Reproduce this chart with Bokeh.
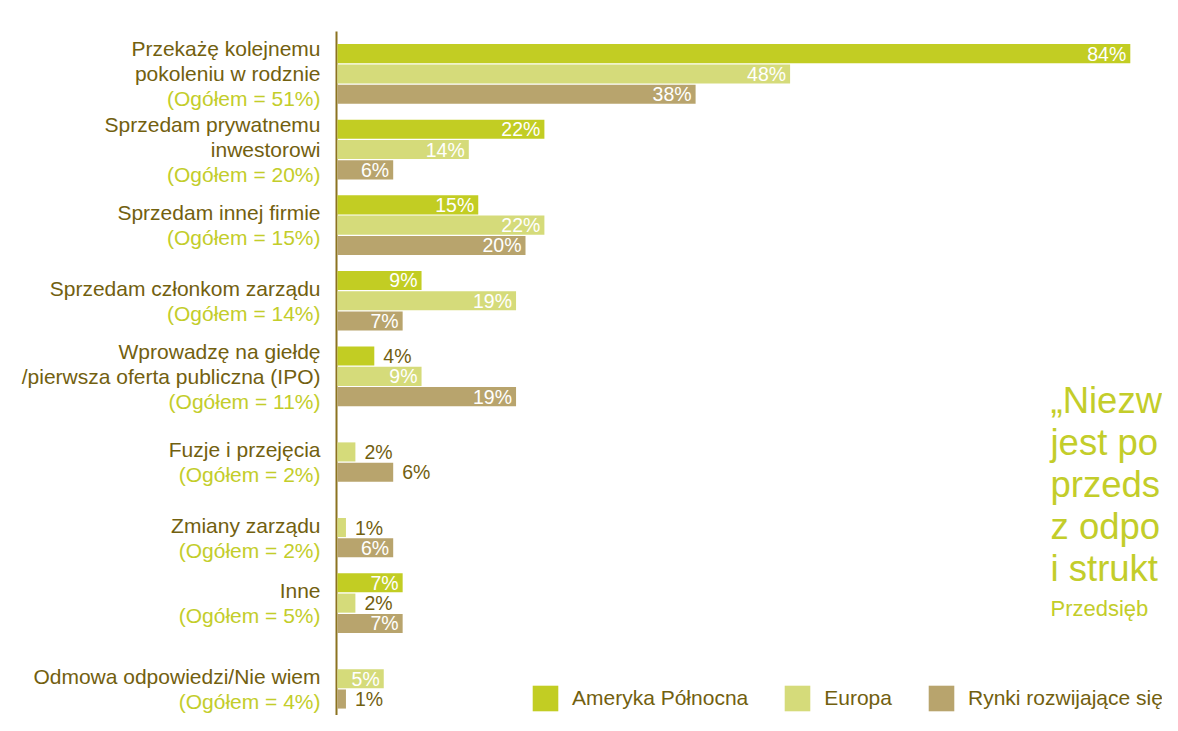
from bokeh.plotting import figure
from bokeh.models import ColumnDataSource, Range1d, Legend, LegendItem, Label
from bokeh.core.properties import value
from bokeh.embed import file_html
from bokeh.resources import INLINE

# ---------------- data ----------------
categories = [
    "Przekażę kolejnemu\npokoleniu w rodznie",
    "Sprzedam prywatnemu\ninwestorowi",
    "Sprzedam innej firmie",
    "Sprzedam członkom zarządu",
    "Wprowadzę na giełdę\n/pierwsza oferta publiczna (IPO)",
    "Fuzje i przejęcia",
    "Zmiany zarządu",
    "Inne",
    "Odmowa odpowiedzi/Nie wiem",
]
overall = [51, 20, 15, 14, 11, 2, 2, 5, 4]
series_names = ["Ameryka Północna", "Europa", "Rynki rozwijające się"]
north_america = [84, 22, 15, 9, 4, 0, 0, 7, 0]
europe = [48, 14, 22, 19, 9, 2, 1, 2, 5]
emerging = [38, 6, 20, 7, 19, 6, 6, 7, 1]
series_values = [north_america, europe, emerging]

quote_lines = ["„Niezw", "jest po", "przeds", "z odpo", "i strukt"]
quote_source = "Przedsięb"

# ---------------- styles ----------------
FONT = "Liberation Sans"
COLORS = ["#C2CD23", "#D5DB7A", "#B8A46D"]
OLIVE = "#72600F"
GREEN_TXT = "#C3CD2A"
AXIS_COL = "#8B7320"
GROUP_STEP = 3.724   # slots per group incl. gap
BAR_H = 0.94
LINE_STEP = 1.23     # label line spacing in slot units
INSIDE_MIN = 5
OUTSIDE_EXCEPT = {(5, 2)}  # (category index, series index) labelled outside

W, H = 1162, 715
PX_PER_PCT = 9.45
PX_PER_SLOT = 20.3
AXIS_PX = 336
TOP_PX = 43

def slot_y(i, j):
    return i * GROUP_STEP + j + 0.5

x0 = -AXIS_PX / PX_PER_PCT
y_top = -TOP_PX / PX_PER_SLOT
y_bot = (H - TOP_PX) / PX_PER_SLOT

p = figure(width=W, height=H, output_backend="svg", toolbar_location=None,
           x_range=Range1d(x0, x0 + W / PX_PER_PCT), y_range=Range1d(y_bot, y_top),
           x_axis_type=None, y_axis_type=None, min_border=0,
           outline_line_color=None, background_fill_color="white",
           border_fill_color="white")
p.grid.visible = False

# axis line
p.segment(x0=[0], y0=[y_top + 31 / PX_PER_SLOT], x1=[0], y1=[y_bot],
          line_color=AXIS_COL, line_width=2)

renderers = []
lab_x, lab_y, lab_t, lab_c, lab_al, lab_off = [], [], [], [], [], []
for j, vals in enumerate(series_values):
    ys, ws = [], []
    for i, v in enumerate(vals):
        if v <= 0:
            continue
        ys.append(slot_y(i, j))
        ws.append(v)
        inside = v >= INSIDE_MIN and (i, j) not in OUTSIDE_EXCEPT
        lab_x.append(v)
        lab_y.append(slot_y(i, j))
        lab_t.append(f"{v}%")
        lab_c.append("white" if inside else OLIVE)
        lab_al.append("right" if inside else "left")
        lab_off.append(-4 if inside else 9)
    src = ColumnDataSource(dict(y=ys, right=ws))
    r = p.hbar(y="y", left=0.1, right="right", height=BAR_H, source=src,
               fill_color=COLORS[j], line_color=None)
    renderers.append(r)

lsrc = ColumnDataSource(dict(x=lab_x, y=lab_y, t=lab_t, c=lab_c, a=lab_al, o=lab_off))
p.text(x="x", y="y", text="t", text_color="c", text_align="a", x_offset="o",
       text_baseline="middle", text_font=value(FONT), text_font_size="19.5px",
       source=lsrc)

# category labels
cx, cy, ct, cc = [], [], [], []
for i, name in enumerate(categories):
    present = [slot_y(i, j) for j in range(3) if series_values[j][i] > 0]
    center = sum(present) / len(present)
    lines = name.split("\n") + [f"(Ogółem = {overall[i]}%)"]
    L = len(lines)
    for k, ln in enumerate(lines):
        cx.append(0)
        cy.append(center + (k - (L - 1) / 2) * LINE_STEP)
        ct.append(ln)
        cc.append(GREEN_TXT if k == L - 1 else OLIVE)
csrc = ColumnDataSource(dict(x=cx, y=cy, t=ct, c=cc))
p.text(x="x", y="y", text="t", text_color="c", text_align="right", x_offset=-16,
       text_baseline="middle", text_font=value(FONT), text_font_size="21px",
       source=csrc)

# quote fragment (as visible in the original)
for k, ln in enumerate(quote_lines):
    p.add_layout(Label(x=1050, y=H - (400 + k * 42), x_units="screen", y_units="screen",
                       text=ln, text_font=FONT, text_font_size="36.5px",
                       text_color=GREEN_TXT, text_baseline="alphabetic"))
p.add_layout(Label(x=1050, y=H - 608, x_units="screen", y_units="screen",
                   text=quote_source, text_font=FONT, text_font_size="22px",
                   text_color=GREEN_TXT, text_baseline="alphabetic"))

legend = Legend(items=[LegendItem(label=s, renderers=[r]) for s, r in zip(series_names, renderers)],
                orientation="horizontal", location=(529, 1),
                glyph_width=32, glyph_height=32, label_standoff=11, spacing=33,
                padding=0, margin=0, border_line_color=None, background_fill_alpha=0,
                label_text_font=FONT, label_text_font_size="21px",
                label_text_color=OLIVE, label_height=32)
p.add_layout(legend)

open("out.html", "w").write(file_html(p, INLINE))
